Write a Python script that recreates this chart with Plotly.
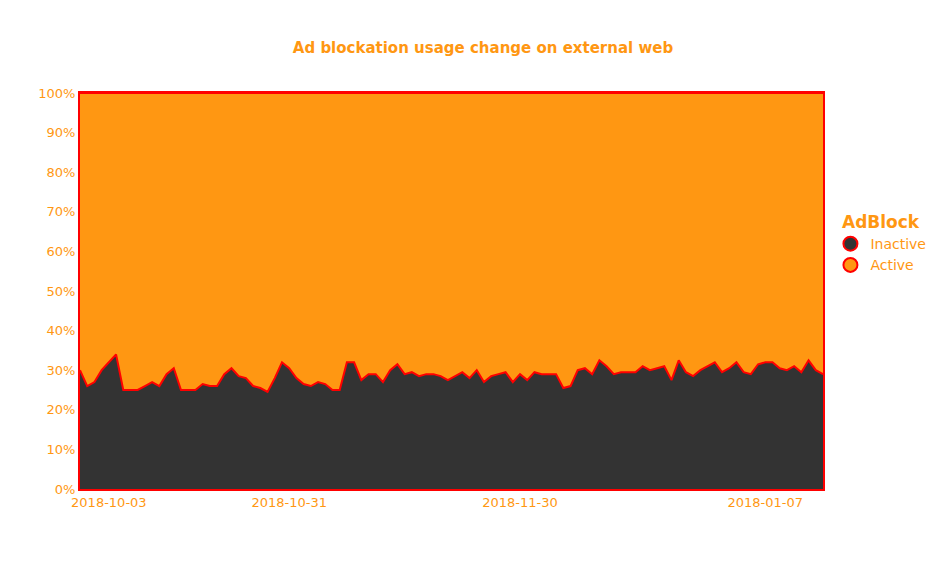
import plotly.graph_objects as go

# inactive share (%), one value per point
inactive = [30, 26, 27, 30, 32, 34, 25, 25, 25, 26, 27, 26, 29, 30.5, 25, 25, 25, 26.5, 26, 26,
            29, 30.5, 28.5, 28, 26, 25.5, 24.5, 28, 32, 30.5, 28, 26.5, 26, 27, 26.5, 25, 25, 32,
            32, 27.5, 29, 29, 27, 30, 31.5, 29, 29.5, 28.5, 29, 29, 28.5, 27.5, 28.5, 29.5, 28, 30,
            27, 28.5, 29, 29.5, 27, 29, 27.5, 29.5, 29, 29, 29, 25.5, 26, 30, 30.5, 29, 32.5, 31,
            29, 29.5, 29.5, 29.5, 31, 30, 30.5, 31, 27.5, 32.5, 29.5, 28.5, 30, 31, 32, 29.5, 30.5,
            32, 29.5, 29, 31.5, 32, 32, 30.5, 30, 31, 29.5, 32.5, 30, 29]
active = [100 - v for v in inactive]
x = list(range(len(inactive)))
tick_pos = [4, 29, 61, 95]
tick_text = ["2018-10-03", "2018-10-31", "2018-11-30", "2018-01-07"]

orange = "#ff9712"
dark = "#333333"
red = "#ff0000"

fig = go.Figure()
fig.add_trace(go.Scatter(x=x, y=inactive, stackgroup="s", mode="lines", line=dict(color=red, width=2),
                         fillcolor=dark, name="Inactive", showlegend=False))
fig.add_trace(go.Scatter(x=x, y=active, stackgroup="s", mode="lines", line=dict(color=red, width=2),
                         fillcolor=orange, name="Active", showlegend=False))
for name, col in [("Active", orange), ("Inactive", dark)]:
    fig.add_trace(go.Scatter(x=[None], y=[None], mode="markers", name=name,
                             marker=dict(color=col, size=14, line=dict(color=red, width=2))))

fig.update_layout(
    width=950, height=583,
    title=dict(text="<b>Ad blockation usage change on external web</b>", x=0.5, y=0.94,
               font=dict(size=15, color=orange)),
    font=dict(family="DejaVu Sans", color=orange, size=12),
    plot_bgcolor="white", paper_bgcolor="white",
    margin=dict(l=72, r=135, t=85, b=102),
    legend=dict(title=dict(text="<b>AdBlock</b>", side="top center"), x=1.01, y=0.62,
                font=dict(size=14, color=orange), itemsizing="trace"),
    xaxis=dict(range=[0, len(inactive) - 1], tickvals=tick_pos, ticktext=tick_text, showgrid=False,
               showline=True, linecolor=red, linewidth=2, mirror=True, zeroline=False,
               tickfont=dict(size=13)),
    yaxis=dict(range=[0, 100], dtick=10, ticksuffix="%", showgrid=False, showline=True,
               linecolor=red, linewidth=2, mirror=True, zeroline=False, tickfont=dict(size=13)),
)
fig.write_html("out.html")
